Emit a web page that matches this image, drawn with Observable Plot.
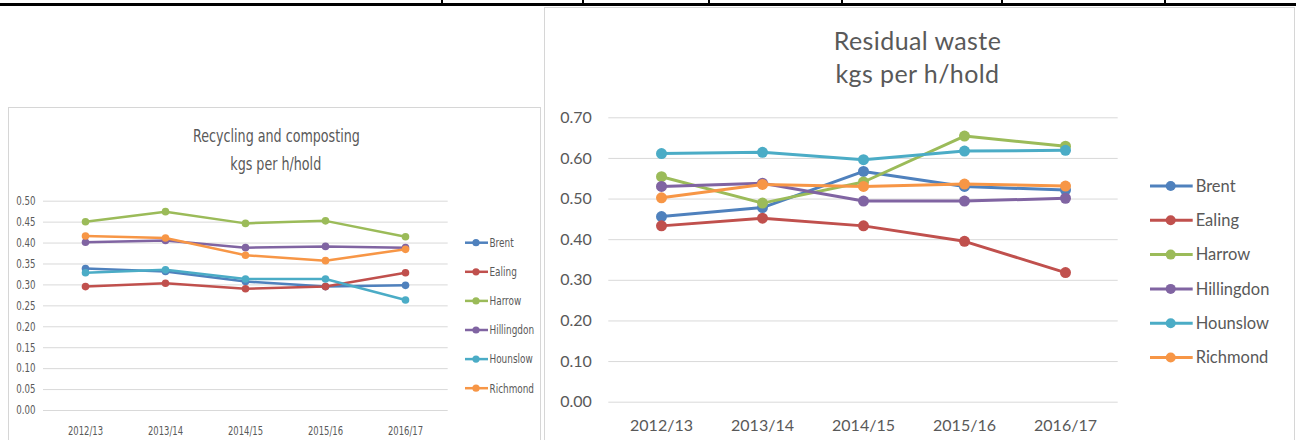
<!DOCTYPE html>
<html><head><meta charset="utf-8">
<script src="https://cdn.jsdelivr.net/npm/d3@7"></script>
<script src="https://cdn.jsdelivr.net/npm/@observablehq/plot@0.6"></script>
<style>
html,body{margin:0;padding:0;background:#fff;width:1296px;height:440px;overflow:hidden;position:relative}
.abs{position:absolute}
.topline{left:0;top:3px;width:1296px;height:3px;background:#000}
.tick{top:0;width:2px;height:4px;background:#000}
.box{border:1.5px solid #d6d6d6;background:#fff;box-sizing:border-box}
.title{color:#595959;text-align:center;white-space:nowrap}
.narrow{font-family:"Liberation Sans Narrow","DejaVu Sans Condensed",sans-serif}
.lato{font-family:Lato,"Open Sans",sans-serif}
.squeeze{display:inline-block;transform:scaleX(0.83);transform-origin:center}
svg{max-width:none !important}
</style></head><body>
<script>
const years = ["2012/13", "2013/14", "2014/15", "2015/16", "2016/17"];
const boroughs = ["Brent", "Ealing", "Harrow", "Hillingdon", "Hounslow", "Richmond"];
const colors = ["#4F81BD", "#C0504D", "#9BBB59", "#8064A2", "#4BACC6", "#F79646"];

// Recycling and composting, kgs per household
const recBrent      = [0.339, 0.332, 0.308, 0.296, 0.299];
const recEaling     = [0.296, 0.304, 0.291, 0.296, 0.329];
const recHarrow     = [0.451, 0.475, 0.447, 0.453, 0.415];
const recHillingdon = [0.402, 0.406, 0.389, 0.392, 0.389];
const recHounslow   = [0.329, 0.336, 0.314, 0.314, 0.264];
const recRichmond   = [0.417, 0.412, 0.371, 0.358, 0.385];

// Residual waste, kgs per household
const resBrent      = [0.457, 0.479, 0.568, 0.531, 0.522];
const resEaling     = [0.434, 0.453, 0.434, 0.396, 0.319];
const resHarrow     = [0.555, 0.490, 0.542, 0.655, 0.630];
const resHillingdon = [0.531, 0.539, 0.495, 0.495, 0.502];
const resHounslow   = [0.612, 0.615, 0.597, 0.618, 0.620];
const resRichmond   = [0.503, 0.536, 0.531, 0.537, 0.532];

const recTicks = [0, 0.05, 0.10, 0.15, 0.20, 0.25, 0.30, 0.35, 0.40, 0.45, 0.50];
const resTicks = [0, 0.10, 0.20, 0.30, 0.40, 0.50, 0.60, 0.70];
const tableTicks = [442, 583, 709, 842, 1002, 1165];

const recSeries = [recBrent, recEaling, recHarrow, recHillingdon, recHounslow, recRichmond];
const resSeries = [resBrent, resEaling, resHarrow, resHillingdon, resHounslow, resRichmond];

function longForm(series) {
  return boroughs.flatMap((b, i) => years.map((y, j) => ({borough: b, year: y, value: series[i][j]})));
}

const body = document.body;
function add(cls, styles, html) {
  const d = document.createElement("div");
  d.className = cls;
  Object.assign(d.style, styles);
  if (html) d.innerHTML = html;
  body.appendChild(d);
  return d;
}

// compress a rendered text horizontally, keeping its anchor
function squeezeText(t, k) {
  const len = t.getComputedTextLength();
  if (len > 0) {
    t.setAttribute("textLength", (len * k).toFixed(2));
    t.setAttribute("lengthAdjust", "spacingAndGlyphs");
  }
}

// page furniture
add("abs topline", {});
tableTicks.forEach(x => add("abs tick", {left: (x - 1) + "px"}));
add("abs box", {left: "8px", top: "107px", width: "533px", height: "345px"});
add("abs box", {left: "543.5px", top: "7px", width: "751px", height: "445px"});

function chart(series, opts) {
  const data = longForm(series);
  const marks = [
    Plot.gridY(opts.ticks, {stroke: "#d9d9d9", strokeOpacity: 1, strokeWidth: 1}),
    Plot.axisY({ticks: opts.ticks, tickFormat: d3.format(".2f"), tickSize: 0, tickPadding: opts.yPad, fontSize: opts.tickFont}),
    Plot.axisX({tickSize: 0, tickPadding: opts.xPad, fontSize: opts.tickFont})
  ];
  boroughs.forEach((b, i) => {
    const d = data.filter(r => r.borough === b);
    marks.push(Plot.line(d, {x: "year", y: "value", stroke: colors[i], strokeWidth: opts.sw, strokeLinejoin: "round", strokeLinecap: "round"}));
    marks.push(Plot.dot(d, {x: "year", y: "value", fill: colors[i], r: opts.r}));
  });
  const svg = Plot.plot({
    width: opts.width, height: 440,
    marginLeft: opts.ml, marginRight: opts.mr, marginTop: opts.mt, marginBottom: opts.mb,
    x: {type: "point", domain: years, padding: 0.5, label: null},
    y: {domain: [0, opts.max], label: null},
    style: {background: "transparent", color: "#595959", fontFamily: opts.font, fontSize: opts.tickFont + "px", overflow: "visible"},
    marks
  });
  const wrap = add("abs", {left: opts.left + "px", top: "0px", width: opts.width + "px", height: "440px"});
  wrap.appendChild(svg);
  if (opts.squeeze) {
    svg.querySelectorAll('g[aria-label="y-axis tick label"] text').forEach(t => squeezeText(t, 0.8));
    svg.querySelectorAll('g[aria-label="x-axis tick label"] text').forEach(t => squeezeText(t, 0.78));
  }
}

const narrowFont = '"Liberation Sans Narrow","DejaVu Sans Condensed",sans-serif';
chart(recSeries, {left: 0, width: 460, ml: 43, mr: 12.3, mt: 200.7, mb: 30, max: 0.5, ticks: recTicks,
  yPad: 8, xPad: 15.5, tickFont: 12, sw: 2.5, r: 3.8, font: narrowFont, squeeze: true});
chart(resSeries, {left: 545, width: 600, ml: 63.3, mr: 27.3, mt: 117.3, mb: 38.3, max: 0.7, ticks: resTicks,
  yPad: 17, xPad: 17.5, tickFont: 16, sw: 3, r: 5.5, font: 'Lato,"Open Sans",sans-serif', squeeze: false});

// titles
add("abs title narrow", {left: "126px", width: "300px", top: "122px", fontSize: "17px", lineHeight: "28px"},
  '<span class="squeeze">Recycling and composting</span><br><span class="squeeze">kgs per h/hold</span>');
add("abs title lato", {left: "767.5px", width: "300px", top: "24px", fontSize: "25px", lineHeight: "33.3px", letterSpacing: "0.4px"},
  "Residual waste<br>kgs per h/hold");

// legends
function legend(o) {
  const svg = d3.create("svg").attr("width", o.w).attr("height", o.h)
    .style("position", "absolute").style("left", o.left + "px").style("top", o.top + "px").style("overflow", "visible");
  const g = svg.selectAll("g").data(boroughs).join("g")
    .attr("transform", (d, i) => `translate(0,${o.y0 + o.dy * i})`);
  g.append("line").attr("x1", o.lx1).attr("x2", o.lx2).attr("stroke", (d, i) => colors[i]).attr("stroke-width", o.sw);
  g.append("circle").attr("cx", o.cx).attr("r", o.r).attr("fill", (d, i) => colors[i]);
  const t = g.append("text").attr("x", o.tx).attr("dy", "0.35em").text(d => d)
    .attr("fill", "#595959").attr("font-family", o.font).attr("font-size", o.fs);
  body.appendChild(svg.node());
  if (o.squeeze) t.each(function() { squeezeText(this, 0.79); });
}
legend({left: 460, top: 220, w: 85, h: 190, y0: 22.7, dy: 29.1, lx1: 5, lx2: 28, cx: 16, r: 3.6, sw: 2.5, tx: 29.5,
  font: narrowFont, fs: 12.5, squeeze: true});
legend({left: 1140, top: 160, w: 150, h: 220, y0: 26, dy: 34.3, lx1: 10, lx2: 52.7, cx: 30.7, r: 5, sw: 3, tx: 55.7,
  font: 'Lato,"Open Sans",sans-serif', fs: 16.5, squeeze: false});
</script>
</body></html>
